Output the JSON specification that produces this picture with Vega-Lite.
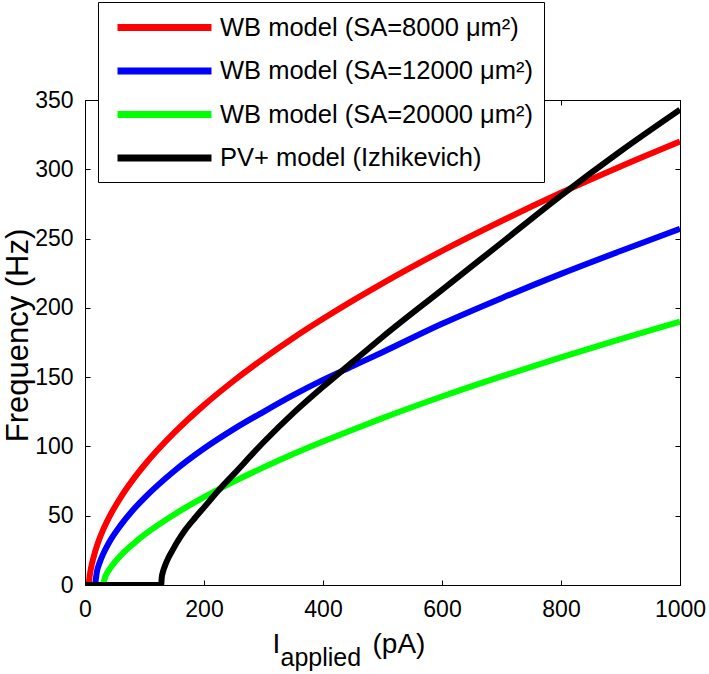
{
  "$schema": "https://vega.github.io/schema/vega-lite/v6.json",
  "width": 595,
  "height": 485,
  "autosize": {"type": "none"},
  "padding": {"left": 85, "top": 100, "right": 29, "bottom": 89},
  "background": "white",
  "config": {
    "font": "Liberation Sans",
    "view": {"stroke": "black", "strokeWidth": 1},
    "axis": {
      "domain": false,
      "grid": false,
      "ticks": true,
      "tickSize": -5,
      "tickColor": "black",
      "tickWidth": 1,
      "labelColor": "black",
      "labelFont": "Liberation Sans",
      "labelFontSize": 23,
      "labelFlush": false,
      "format": "d",
      "titleColor": "black",
      "titleFont": "Liberation Sans",
      "titleFontWeight": "normal"
    }
  },
  "data": {
    "values": [
      {"model": "WB model (SA=8000 μm²)", "I": 6, "F": 0},
      {"model": "WB model (SA=8000 μm²)", "I": 8, "F": 7},
      {"model": "WB model (SA=8000 μm²)", "I": 10, "F": 12},
      {"model": "WB model (SA=8000 μm²)", "I": 15, "F": 21},
      {"model": "WB model (SA=8000 μm²)", "I": 20, "F": 28.2},
      {"model": "WB model (SA=8000 μm²)", "I": 30, "F": 39.4},
      {"model": "WB model (SA=8000 μm²)", "I": 40, "F": 48.4},
      {"model": "WB model (SA=8000 μm²)", "I": 60, "F": 63.3},
      {"model": "WB model (SA=8000 μm²)", "I": 80, "F": 75.7},
      {"model": "WB model (SA=8000 μm²)", "I": 100, "F": 86.6},
      {"model": "WB model (SA=8000 μm²)", "I": 150, "F": 109.9},
      {"model": "WB model (SA=8000 μm²)", "I": 200, "F": 129.8},
      {"model": "WB model (SA=8000 μm²)", "I": 250, "F": 147.4},
      {"model": "WB model (SA=8000 μm²)", "I": 300, "F": 163.4},
      {"model": "WB model (SA=8000 μm²)", "I": 350, "F": 178.3},
      {"model": "WB model (SA=8000 μm²)", "I": 400, "F": 192.1},
      {"model": "WB model (SA=8000 μm²)", "I": 450, "F": 205.2},
      {"model": "WB model (SA=8000 μm²)", "I": 500, "F": 217.7},
      {"model": "WB model (SA=8000 μm²)", "I": 600, "F": 241.1},
      {"model": "WB model (SA=8000 μm²)", "I": 700, "F": 262.7},
      {"model": "WB model (SA=8000 μm²)", "I": 800, "F": 283},
      {"model": "WB model (SA=8000 μm²)", "I": 900, "F": 302},
      {"model": "WB model (SA=8000 μm²)", "I": 1000, "F": 320},
      {"model": "WB model (SA=12000 μm²)", "I": 17, "F": 0},
      {"model": "WB model (SA=12000 μm²)", "I": 20, "F": 9.5},
      {"model": "WB model (SA=12000 μm²)", "I": 25, "F": 16.6},
      {"model": "WB model (SA=12000 μm²)", "I": 30, "F": 21.9},
      {"model": "WB model (SA=12000 μm²)", "I": 40, "F": 30.3},
      {"model": "WB model (SA=12000 μm²)", "I": 60, "F": 43.2},
      {"model": "WB model (SA=12000 μm²)", "I": 80, "F": 53.8},
      {"model": "WB model (SA=12000 μm²)", "I": 100, "F": 62.9},
      {"model": "WB model (SA=12000 μm²)", "I": 150, "F": 82.3},
      {"model": "WB model (SA=12000 μm²)", "I": 200, "F": 98.5},
      {"model": "WB model (SA=12000 μm²)", "I": 250, "F": 112.5},
      {"model": "WB model (SA=12000 μm²)", "I": 300, "F": 125},
      {"model": "WB model (SA=12000 μm²)", "I": 350, "F": 137},
      {"model": "WB model (SA=12000 μm²)", "I": 400, "F": 148},
      {"model": "WB model (SA=12000 μm²)", "I": 450, "F": 158},
      {"model": "WB model (SA=12000 μm²)", "I": 500, "F": 168},
      {"model": "WB model (SA=12000 μm²)", "I": 600, "F": 188.5},
      {"model": "WB model (SA=12000 μm²)", "I": 700, "F": 207},
      {"model": "WB model (SA=12000 μm²)", "I": 800, "F": 224.5},
      {"model": "WB model (SA=12000 μm²)", "I": 900, "F": 241},
      {"model": "WB model (SA=12000 μm²)", "I": 1000, "F": 257},
      {"model": "WB model (SA=20000 μm²)", "I": 30, "F": 0},
      {"model": "WB model (SA=20000 μm²)", "I": 35, "F": 6.9},
      {"model": "WB model (SA=20000 μm²)", "I": 40, "F": 10.6},
      {"model": "WB model (SA=20000 μm²)", "I": 50, "F": 16.5},
      {"model": "WB model (SA=20000 μm²)", "I": 60, "F": 21.3},
      {"model": "WB model (SA=20000 μm²)", "I": 80, "F": 29.3},
      {"model": "WB model (SA=20000 μm²)", "I": 100, "F": 36.3},
      {"model": "WB model (SA=20000 μm²)", "I": 150, "F": 50.9},
      {"model": "WB model (SA=20000 μm²)", "I": 200, "F": 63.4},
      {"model": "WB model (SA=20000 μm²)", "I": 250, "F": 74.6},
      {"model": "WB model (SA=20000 μm²)", "I": 300, "F": 84.9},
      {"model": "WB model (SA=20000 μm²)", "I": 350, "F": 94.5},
      {"model": "WB model (SA=20000 μm²)", "I": 400, "F": 103.5},
      {"model": "WB model (SA=20000 μm²)", "I": 450, "F": 112.1},
      {"model": "WB model (SA=20000 μm²)", "I": 500, "F": 120.4},
      {"model": "WB model (SA=20000 μm²)", "I": 600, "F": 136},
      {"model": "WB model (SA=20000 μm²)", "I": 700, "F": 150.5},
      {"model": "WB model (SA=20000 μm²)", "I": 800, "F": 164.2},
      {"model": "WB model (SA=20000 μm²)", "I": 900, "F": 177.4},
      {"model": "WB model (SA=20000 μm²)", "I": 1000, "F": 190},
      {"model": "PV+ model (Izhikevich)", "I": 0, "F": 0},
      {"model": "PV+ model (Izhikevich)", "I": 128, "F": 0},
      {"model": "PV+ model (Izhikevich)", "I": 129, "F": 5.5},
      {"model": "PV+ model (Izhikevich)", "I": 131, "F": 9.5},
      {"model": "PV+ model (Izhikevich)", "I": 135, "F": 14.5},
      {"model": "PV+ model (Izhikevich)", "I": 140, "F": 19.5},
      {"model": "PV+ model (Izhikevich)", "I": 147, "F": 25},
      {"model": "PV+ model (Izhikevich)", "I": 155, "F": 31},
      {"model": "PV+ model (Izhikevich)", "I": 168, "F": 39.5},
      {"model": "PV+ model (Izhikevich)", "I": 185, "F": 48.5},
      {"model": "PV+ model (Izhikevich)", "I": 200, "F": 56},
      {"model": "PV+ model (Izhikevich)", "I": 225, "F": 68.5},
      {"model": "PV+ model (Izhikevich)", "I": 250, "F": 80},
      {"model": "PV+ model (Izhikevich)", "I": 300, "F": 103},
      {"model": "PV+ model (Izhikevich)", "I": 350, "F": 124},
      {"model": "PV+ model (Izhikevich)", "I": 400, "F": 143},
      {"model": "PV+ model (Izhikevich)", "I": 450, "F": 161},
      {"model": "PV+ model (Izhikevich)", "I": 500, "F": 179},
      {"model": "PV+ model (Izhikevich)", "I": 600, "F": 213},
      {"model": "PV+ model (Izhikevich)", "I": 700, "F": 247},
      {"model": "PV+ model (Izhikevich)", "I": 800, "F": 281},
      {"model": "PV+ model (Izhikevich)", "I": 900, "F": 313},
      {"model": "PV+ model (Izhikevich)", "I": 1000, "F": 343}
    ]
  },
  "layer": [
    {
      "mark": {"type": "line", "strokeWidth": 6, "interpolate": "monotone", "clip": true},
      "encoding": {
        "x": {
          "field": "I", "type": "quantitative",
          "scale": {"domain": [0, 1000], "nice": false},
          "axis": {
            "orient": "bottom",
            "values": [0, 200, 400, 600, 800, 1000],
            "labelPadding": 18,
            "title": "I",
            "titleFontSize": 28,
            "titleX": 187,
            "titleY": 67,
            "titleAlign": "left",
            "titleBaseline": "alphabetic"
          }
        },
        "y": {
          "field": "F", "type": "quantitative",
          "scale": {"domain": [0, 350], "nice": false},
          "axis": {
            "orient": "left",
            "values": [0, 50, 100, 150, 200, 250, 300, 350],
            "labelPadding": 17,
            "title": "Frequency (Hz)",
            "titleFontSize": 31,
            "titleX": -58,
            "titleY": 235,
            "titleAngle": -90,
            "titleAlign": "center",
            "titleBaseline": "alphabetic"
          }
        },
        "color": {
          "field": "model", "type": "nominal",
          "scale": {
            "domain": ["WB model (SA=8000 μm²)", "WB model (SA=12000 μm²)", "WB model (SA=20000 μm²)", "PV+ model (Izhikevich)"],
            "range": ["#ff0000", "#0000ff", "#00ff00", "#000000"]
          },
          "legend": {
            "orient": "none",
            "legendX": 13,
            "legendY": -98,
            "title": null,
            "symbolType": "M-4,0H4",
            "symbolSize": 552,
            "symbolStrokeWidth": 7,
            "symbolOffset": 41,
            "labelOffset": 40,
            "labelFontSize": 25.5,
            "labelFont": "Liberation Sans",
            "labelColor": "black",
            "labelLimit": 0,
            "padding": 10,
            "rowPadding": 13.5,
            "strokeColor": "black",
            "fillColor": "white"
          }
        }
      }
    },
    {
      "mark": {"type": "line", "strokeOpacity": 0},
      "encoding": {
        "x": {"field": "I", "type": "quantitative", "axis": {"orient": "top", "values": [0, 200, 400, 600, 800, 1000], "labels": false, "title": null}},
        "y": {"field": "F", "type": "quantitative", "axis": {"orient": "right", "values": [0, 50, 100, 150, 200, 250, 300, 350], "labels": false, "title": null}}
      }
    },
    {
      "mark": {"type": "line", "strokeOpacity": 0},
      "encoding": {
        "x": {"field": "I", "type": "quantitative", "axis": {"orient": "bottom", "ticks": false, "labels": false, "title": "applied", "titleFontSize": 25, "titleX": 195, "titleY": 80, "titleAlign": "left", "titleBaseline": "alphabetic"}},
        "y": {"field": "F", "type": "quantitative", "axis": null}
      }
    },
    {
      "mark": {"type": "line", "strokeOpacity": 0},
      "encoding": {
        "x": {"field": "I", "type": "quantitative", "axis": {"orient": "bottom", "ticks": false, "labels": false, "title": "(pA)", "titleFontSize": 28, "titleX": 287, "titleY": 67, "titleAlign": "left", "titleBaseline": "alphabetic"}},
        "y": {"field": "F", "type": "quantitative", "axis": null}
      }
    }
  ],
  "resolve": {"axis": {"x": "independent", "y": "independent"}}
}
